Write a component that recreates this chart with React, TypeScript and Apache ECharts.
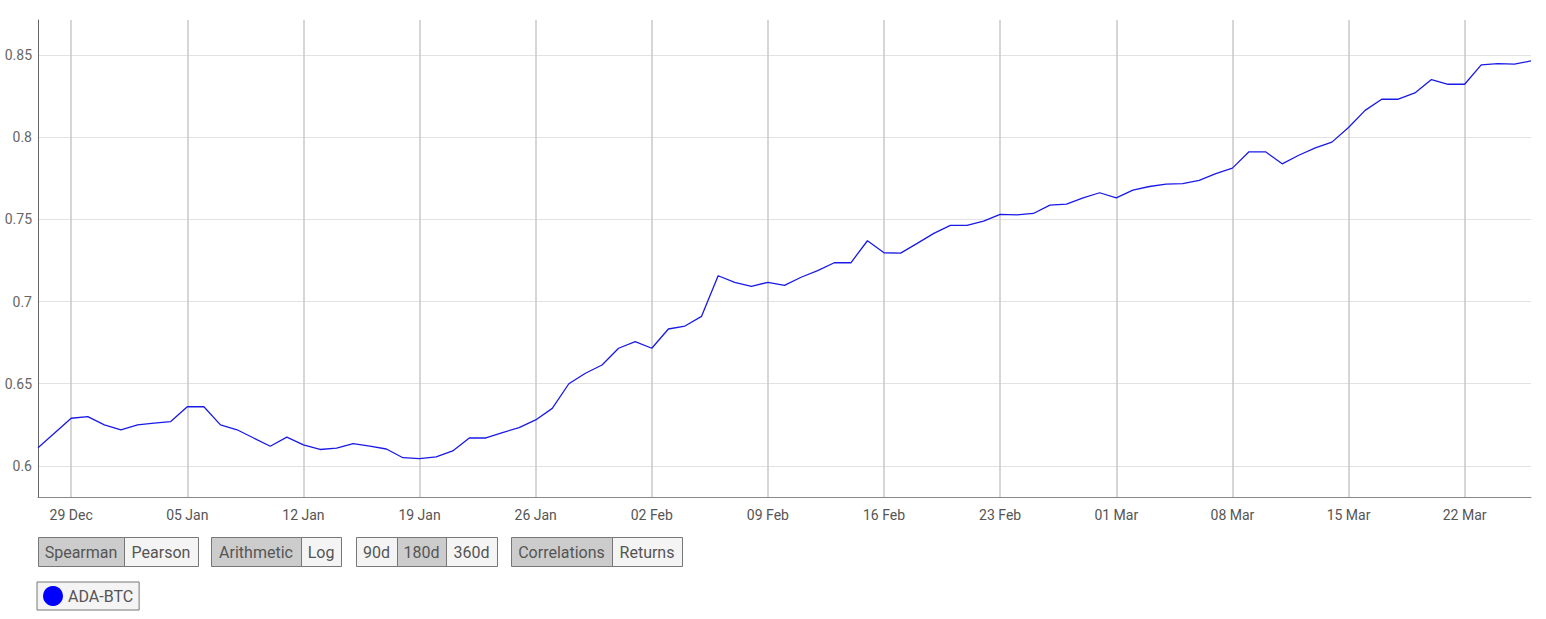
import React, { useEffect, useRef } from "react";
import * as echarts from "echarts";

// ADA-BTC 180d Spearman correlation, daily, 27 Dec 2019 – 26 Mar 2020
const decValues = [0.611, 0.62, 0.629, 0.63, 0.625];
const janValues = [
  0.622, 0.625, 0.626, 0.627, 0.636, 0.636, 0.625, 0.622, 0.617, 0.612, 0.6175,
  0.6128, 0.61, 0.6108, 0.6136, 0.612, 0.6103, 0.605, 0.6044, 0.6055, 0.6091,
  0.617, 0.617, 0.6203, 0.6233, 0.628, 0.635, 0.65, 0.6564, 0.6614, 0.6716,
];
const febValues = [
  0.6756, 0.6716, 0.6833, 0.6851, 0.691, 0.7157, 0.7117, 0.7093, 0.7117, 0.7098,
  0.7148, 0.7188, 0.7236, 0.7236, 0.737, 0.7297, 0.7295, 0.7354, 0.7415, 0.7463,
  0.7463, 0.749, 0.753, 0.7528, 0.7536, 0.7587, 0.7593, 0.7631, 0.7662,
];
const marValues = [
  0.7631, 0.7678, 0.77, 0.7715, 0.7717, 0.7737, 0.7778, 0.7812, 0.7911, 0.7911,
  0.7838, 0.789, 0.7935, 0.797, 0.8059, 0.8163, 0.8231, 0.8231, 0.8269, 0.8351,
  0.8322, 0.8322, 0.844, 0.8448, 0.8444, 0.8464,
];

// month blocks: [year, monthIndex, firstDay, label]
const monthBlocks: [number, number, number, string, number[]][] = [
  [2019, 11, 27, "Dec", decValues],
  [2020, 0, 1, "Jan", janValues],
  [2020, 1, 1, "Feb", febValues],
  [2020, 2, 1, "Mar", marValues],
];

const yTickValues = [0.6, 0.65, 0.7, 0.75, 0.8, 0.85];
const yMin = 0.5811;
const yMax = 0.8713;

const seriesName = "ADA-BTC";

// control buttons: groups of [label, selected]
const buttonGroups: [string, boolean][][] = [
  [["Spearman", true], ["Pearson", false]],
  [["Arithmetic", true], ["Log", false]],
  [["90d", false], ["180d", true], ["360d", false]],
  [["Correlations", true], ["Returns", false]],
];
// layout (pixel edges of each button cell)
const buttonEdges: number[][] = [
  [38, 124, 198],
  [211, 301, 341],
  [356, 397, 446, 497],
  [511, 612, 682],
];

const categories: string[] = [];
const sundays: boolean[] = [];
const values: number[] = [];
monthBlocks.forEach(([yr, mo, first, label, vals]) => {
  vals.forEach((v, k) => {
    const day = first + k;
    const d = new Date(Date.UTC(yr, mo, day));
    categories.push((day < 10 ? "0" : "") + day + " " + label);
    sundays.push(d.getUTCDay() === 0);
    values.push(v);
  });
});

export default function App() {
  const ref = useRef<HTMLDivElement>(null);
  useEffect(() => {
    if (!ref.current) return;
    const chart = echarts.init(ref.current, null, { renderer: "svg" });
    const font = "Roboto";
    const graphics: any[] = [];
    const by = 537;
    const bh = 29;
    buttonGroups.forEach((grp, gi) => {
      const edges = buttonEdges[gi];
      grp.forEach(([label, sel], bi) => {
        const x0 = edges[bi];
        const x1 = edges[bi + 1];
        graphics.push({
          type: "rect",
          shape: { x: x0 + 0.5, y: by + 0.5, width: x1 - x0, height: bh },
          style: { fill: sel ? "#cccccc" : "#f4f4f4", stroke: "#777777", lineWidth: 1 },
          silent: true,
        });
        graphics.push({
          type: "text",
          x: (x0 + x1) / 2,
          y: by + bh / 2 + 1,
          style: {
            text: label,
            align: "center",
            verticalAlign: "middle",
            textAlign: "center",
            textVerticalAlign: "middle",
            fontSize: 16,
            fontFamily: font,
            fill: "#555555",
          },
          silent: true,
        });
      });
    });

    chart.setOption({
      animation: false,
      grid: {
        left: 38,
        right: 15,
        top: 20,
        bottom: 122,
        containLabel: false,
        outerBoundsMode: "none",
      },
      legend: {
        left: 37,
        top: 582,
        icon: "circle",
        itemWidth: 20,
        itemHeight: 20,
        itemGap: 5,
        padding: [4, 6, 4, 6],
        backgroundColor: "#f4f4f4",
        borderColor: "#777777",
        borderWidth: 1,
        borderRadius: 0,
        textStyle: { fontSize: 16, fontFamily: font, color: "#555555", padding: [0, 0, 0, 0] },
        data: [seriesName],
      },
      xAxis: {
        type: "category",
        data: categories,
        boundaryGap: false,
        axisLine: { show: true, lineStyle: { color: "#888888", width: 1 } },
        axisTick: { show: false, interval: (i: number) => sundays[i] },
        axisLabel: {
          interval: (i: number) => sundays[i],
          color: "#555555",
          fontSize: 14,
          fontFamily: font,
          margin: 11,
        },
        splitLine: {
          show: true,
          interval: (i: number) => sundays[i],
          lineStyle: { color: "#c9c9c9", width: 1.5 },
        },
      },
      yAxis: {
        type: "value",
        min: yMin,
        max: yMax,
        axisLine: { show: true, lineStyle: { color: "#666666", width: 1 } },
        axisTick: { show: false, customValues: yTickValues },
        axisLabel: {
          customValues: yTickValues,
          color: "#666666",
          fontSize: 14,
          fontFamily: font,
          margin: 6,
          formatter: (v: number) => String(Number(v.toFixed(2))),
        },
        splitLine: { show: true, lineStyle: { color: "#e2e2e2", width: 1 } },
      },
      series: [
        {
          name: seriesName,
          type: "line",
          data: values,
          showSymbol: false,
          symbol: "circle",
          smooth: false,
          color: "#0000ff",
          lineStyle: { color: "#1a1ae6", width: 1.3 },
          emphasis: { disabled: true },
        },
      ],
      graphic: graphics,
    });
    return () => chart.dispose();
  }, []);
  return (
    <div
      ref={ref}
      style={{ position: "fixed", left: 0, top: 0, width: 1546, height: 619, background: "#ffffff" }}
    />
  );
}
